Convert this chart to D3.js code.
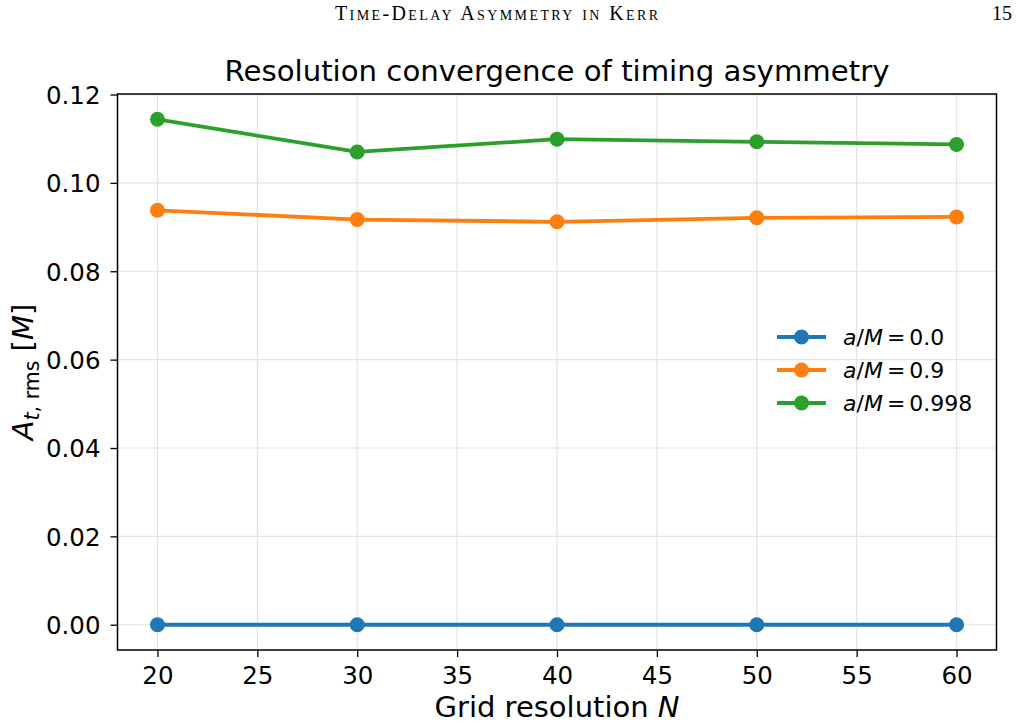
<!DOCTYPE html>
<html>
<head>
<meta charset="utf-8">
<script src="https://cdn.jsdelivr.net/npm/d3@7"></script>
<style>
  body { margin: 0; background: #fff; }
  svg { display: block; }
</style>
</head>
<body>
<svg id="chart" width="1018" height="728"></svg>
<script>
// grid resolutions and timing asymmetry per spin
const resolutions = [20, 30, 40, 50, 60];
const spin00 = [0, 0, 0, 0, 0];
const spin09 = [0.0938, 0.0917, 0.0912, 0.0921, 0.0923];
const spin0998 = [0.1144, 0.1070, 0.1099, 0.1093, 0.1087];
const seriesNames = ["0.0", "0.9", "0.998"];
const xTicks = [20, 25, 30, 35, 40, 45, 50, 55, 60];
const yTicks = [0, 0.02, 0.04, 0.06, 0.08, 0.10, 0.12];

const colors = ["#1f77b4", "#ff7f0e", "#2ca02c"];
const series = [spin00, spin09, spin0998].map((vals, i) => ({
    name: seriesNames[i],
    color: colors[i],
    pts: resolutions.map((n, j) => ({n: n, v: vals[j]}))
}));

const pLeft = 117.5, pRight = 996.5, pTop = 94, pBottom = 650;
const svg = d3.select("#chart");
const sans = "DejaVu Sans, sans-serif";

// matplotlib style 5% margins
const xMin = d3.min(resolutions), xMax = d3.max(resolutions);
const xPad = (xMax - xMin) * 0.05;
const allVals = spin00.concat(spin09, spin0998);
const yMin = d3.min(allVals), yMax = d3.max(allVals);
const yPad = (yMax - yMin) * 0.05;

const x = d3.scaleLinear().domain([xMin - xPad, xMax + xPad]).range([pLeft, pRight]);
const y = d3.scaleLinear().domain([yMin - yPad, yMax + yPad]).range([pBottom, pTop]);

// header of the page
svg.append("text")
    .attr("x", 335).attr("y", 20)
    .attr("textLength", 323).attr("lengthAdjust", "spacing")
    .style("font-family", "Liberation Serif, serif")
    .style("font-variant", "small-caps")
    .style("font-size", "20px")
    .text("Time-Delay Asymmetry in Kerr");
svg.append("text")
    .attr("x", 1012).attr("y", 20)
    .attr("text-anchor", "end")
    .style("font-family", "Liberation Serif, serif")
    .style("font-size", "20px")
    .text("15");

// grid
const grid = svg.append("g");
grid.selectAll(".gx").data(xTicks).enter().append("line")
    .attr("x1", d => x(d)).attr("x2", d => x(d))
    .attr("y1", pTop).attr("y2", pBottom)
    .attr("stroke", "#e3e3e3").attr("stroke-width", 1.2);
grid.selectAll(".gy").data(yTicks).enter().append("line")
    .attr("x1", pLeft).attr("x2", pRight)
    .attr("y1", d => y(d)).attr("y2", d => y(d))
    .attr("stroke", "#e3e3e3").attr("stroke-width", 1.2);

// axes
const xAxis = d3.axisBottom(x).tickValues(xTicks).tickSize(7).tickPadding(8)
    .tickFormat(d3.format("d"));
const yAxis = d3.axisLeft(y).tickValues(yTicks).tickSize(7).tickPadding(10)
    .tickFormat(d3.format(".2f"));

const gx = svg.append("g").attr("transform", `translate(0,${pBottom})`).call(xAxis);
const gy = svg.append("g").attr("transform", `translate(${pLeft},0)`).call(yAxis);
[gx, gy].forEach(g => {
    g.select(".domain").remove();
    g.selectAll(".tick line").attr("stroke", "#000").attr("stroke-width", 1.3);
    g.selectAll(".tick text")
        .style("font-family", sans).style("font-size", "24.5px").attr("fill", "#000");
});
gx.selectAll(".tick text").attr("dy", "0.76em");
gy.selectAll(".tick text").attr("dy", "0.36em");

// lines and markers
const lineFun = d3.line().x(d => x(d.n)).y(d => y(d.v));
series.forEach(s => {
    svg.append("path")
        .attr("d", lineFun(s.pts))
        .attr("fill", "none")
        .attr("stroke", s.color)
        .attr("stroke-width", 3.8)
        .attr("stroke-linejoin", "round");
    svg.append("g").selectAll("circle").data(s.pts).enter().append("circle")
        .attr("cx", d => x(d.n)).attr("cy", d => y(d.v))
        .attr("r", 7.5)
        .attr("fill", s.color);
});

// frame
svg.append("rect")
    .attr("x", pLeft).attr("y", pTop)
    .attr("width", pRight - pLeft).attr("height", pBottom - pTop)
    .attr("fill", "none").attr("stroke", "#000").attr("stroke-width", 1.5);

// title
svg.append("text")
    .attr("x", (pLeft + pRight) / 2).attr("y", 81)
    .attr("text-anchor", "middle")
    .style("font-family", sans).style("font-size", "29.2px")
    .text("Resolution convergence of timing asymmetry");

// x label
const xl = svg.append("text")
    .attr("x", (pLeft + pRight) / 2).attr("y", 717)
    .attr("text-anchor", "middle")
    .style("font-family", sans).style("font-size", "29px");
xl.append("tspan").text("Grid resolution ");
xl.append("tspan").style("font-style", "italic").text("N");

// y label
const yl = svg.append("text")
    .attr("transform", `translate(33,${(pTop + pBottom) / 2}) rotate(-90)`)
    .attr("text-anchor", "middle")
    .style("font-family", sans).style("font-size", "29px");
yl.append("tspan").style("font-style", "italic").text("A");
yl.append("tspan").attr("dy", 6).style("font-size", "20.5px").style("font-style", "italic").text("t");
yl.append("tspan").style("font-size", "20.5px").text(", rms");
yl.append("tspan").attr("dy", -6).text(" [");
yl.append("tspan").style("font-style", "italic").text("M");
yl.append("tspan").text("]");

// legend
const legend = svg.append("g").attr("transform", "translate(777,337)");
series.forEach((s, i) => {
    const row = legend.append("g").attr("transform", `translate(0,${i * 33})`);
    row.append("line")
        .attr("x1", 0).attr("x2", 49).attr("y1", 0).attr("y2", 0)
        .attr("stroke", s.color).attr("stroke-width", 3.8);
    row.append("circle").attr("cx", 24.5).attr("cy", 0).attr("r", 7.5).attr("fill", s.color);
    const t = row.append("text")
        .attr("x", 66).attr("y", 0).attr("dy", "0.36em")
        .style("font-family", sans).style("font-size", "22px");
    t.append("tspan").style("font-style", "italic").text("a");
    t.append("tspan").text("/");
    t.append("tspan").style("font-style", "italic").text("M");
    t.append("tspan").attr("dx", 4).text("=");
    t.append("tspan").attr("dx", 4).text(s.name);
});
</script>
</body>
</html>
